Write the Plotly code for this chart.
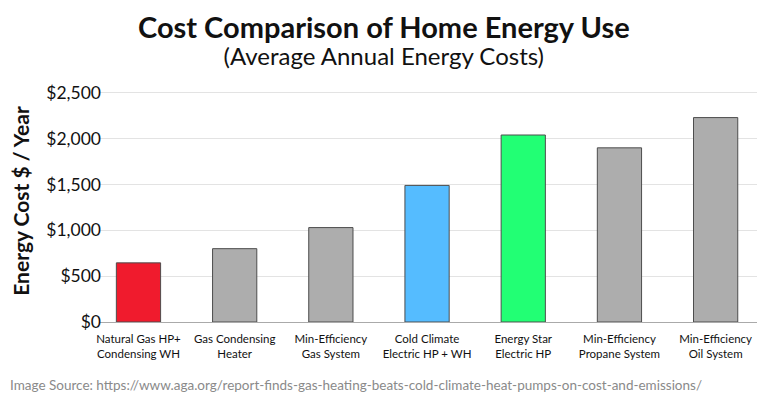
import plotly.graph_objects as go

categories = [
    "Natural Gas HP+<br>Condensing WH",
    "Gas Condensing<br>Heater",
    "Min-Efficiency<br>Gas System",
    "Cold Climate<br>Electric HP + WH",
    "Energy Star<br>Electric HP",
    "Min-Efficiency<br>Propane System",
    "Min-Efficiency<br>Oil System",
]
annual_cost = [645, 800, 1030, 1490, 2040, 1900, 2230]
bar_colors = ["#F01B2D", "#ADADAD", "#ADADAD", "#55BCFF", "#22FF74", "#ADADAD", "#ADADAD"]
y_ticks = [0, 500, 1000, 1500, 2000, 2500]
y_tick_labels = ["$0", "$500", "$1,000", "$1,500", "$2,000", "$2,500"]

FONT = "Lato"
W, H = 768, 405
M = dict(l=92, r=19, t=72, b=91)
PLOT_W = W - M["l"] - M["r"]
PLOT_H = H - M["t"] - M["b"]


def px_x(x):
    # pixel from left of figure -> paper x
    return (x - M["l"]) / PLOT_W


def px_y(y):
    # pixel from top of figure -> paper y
    return (H - M["b"] - y) / PLOT_H


fig = go.Figure(
    go.Bar(
        x=list(range(len(categories))),
        y=annual_cost,
        width=0.46,
        marker=dict(color=bar_colors, line=dict(color="#4d4d4d", width=1)),
        hoverinfo="y",
    )
)

fig.update_layout(
    width=W,
    height=H,
    margin=M,
    paper_bgcolor="white",
    plot_bgcolor="white",
    showlegend=False,
    font=dict(family=FONT, color="#111"),
    xaxis=dict(
        tickmode="array",
        tickvals=list(range(len(categories))),
        ticktext=categories,
        tickfont=dict(size=11.5, color="#111"),
        ticklabelstandoff=6,
        range=[-0.4, 6.43],
        showline=True,
        linecolor="#aaaaaa",
        linewidth=1,
        ticks="",
        showgrid=False,
        automargin=False,
    ),
    yaxis=dict(
        range=[0, 2640],
        tickmode="array",
        tickvals=y_ticks,
        ticktext=y_tick_labels,
        tickfont=dict(size=17.5, color="#111"),
        ticklabelstandoff=-2,
        gridcolor="#e3e3e3",
        zeroline=False,
        ticks="",
        automargin=False,
        title=dict(
            text="<b>Energy Cost $ / Year</b>",
            font=dict(size=21, color="#111"),
            standoff=10,
        ),
    ),
    annotations=[
        dict(
            text=(
                "<span style='font-size:29px'><b>Cost Comparison of Home Energy Use</b></span>"
                "<br><span style='font-size:24px'>(Average Annual Energy Costs)</span>"
            ),
            x=px_x(376), y=px_y(-1), xref="paper", yref="paper",
            xanchor="center", yanchor="top", showarrow=False,
            font=dict(size=21, color="#111"),
        ),
        dict(
            text="Image Source: https://www.aga.org/report-finds-gas-heating-beats-cold-climate-heat-pumps-on-cost-and-emissions/",
            x=px_x(0), y=px_y(387), xref="paper", yref="paper",
            xanchor="left", yanchor="bottom", showarrow=False,
            font=dict(size=13.5, color="#8a8a8a"),
        ),
    ],
)

fig.write_html("out.html")
